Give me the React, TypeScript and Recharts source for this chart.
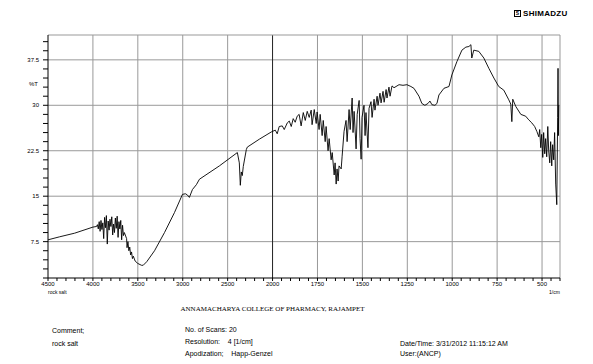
import { LineChart, Line, XAxis, YAxis, ReferenceLine } from 'recharts'

// IR spectrum, rock salt (wavenumber in 1/cm, %T)
const wavenumber = [
  4500, 4370, 4203, 4000, 3960,
  3950, 3940, 3930, 3920, 3910, 3900, 3890, 3880, 3870, 3860, 3850, 3840, 3830, 3820, 3810,
  3800, 3790, 3780, 3770, 3760, 3750, 3740, 3730, 3720, 3710, 3700, 3690, 3680, 3670, 3660, 3650,
  3625, 3620, 3610, 3600, 3590, 3580, 3570, 3560, 3550, 3530, 3500, 3460, 3440, 3400, 3314,
  3203, 3092, 3003, 2970, 2948, 2926, 2892, 2848, 2814, 2592, 2392,
  2370, 2359, 2348, 2337, 2326, 2292, 2281, 2148, 2014,
  1985, 1974, 1963, 1946, 1935, 1918, 1907, 1896, 1885, 1874, 1863, 1852, 1841, 1829, 1818,
  1807, 1796, 1785, 1780, 1768, 1757, 1752, 1741, 1735, 1724, 1718, 1707, 1702, 1691, 1685,
  1674, 1668, 1657, 1652, 1646, 1641, 1635, 1630, 1618, 1613, 1602, 1591, 1585, 1574, 1568,
  1557, 1552, 1546, 1535, 1529, 1518, 1513, 1507, 1502, 1491, 1485, 1480, 1469, 1463, 1452,
  1446, 1435, 1430, 1418, 1413, 1402, 1396, 1385, 1379, 1368, 1363, 1352, 1346, 1335, 1324,
  1296, 1274, 1252, 1230, 1213, 1185, 1169, 1152, 1135, 1124, 1113, 1096, 1085, 1074, 1046,
  1018, 1002, 974, 946, 924, 907, 896, 891, 880, 852, 824, 796, 768, 741, 713,
  685, 674, 668, 663, 646, 618, 591, 574, 557, 541, 529, 518, 513, 507, 502,
  496, 491, 485, 480, 474, 468, 463, 457, 452, 446, 441, 435, 430, 424, 418,
  413, 411, 409, 407,
]
const transmittance = [
  7.8, 8.3, 8.9, 9.9, 10.0,
  10.3, 9.6, 10.8, 9.2, 11.0, 9.5, 10.6, 8.0, 11.5, 9.8, 11.8, 7.1, 10.9, 9.4, 11.2,
  10.0, 11.6, 8.6, 10.4, 9.0, 11.4, 9.7, 11.7, 8.2, 10.8, 9.6, 11.0, 7.8, 10.2, 8.5, 9.0,
  8.0, 6.5, 7.5, 6.0, 6.6, 5.3, 5.8, 4.7, 5.1, 4.3, 3.9, 3.6, 3.6, 4.2, 6.0,
  9.0, 12.3, 15.3, 15.4, 15.2, 14.8, 16.1, 16.9, 17.8, 20.0, 22.2,
  20.5, 16.8, 19.0, 18.4, 19.9, 22.7, 23.1, 24.4, 25.6,
  25.9, 25.3, 26.5, 26.6, 26.0, 27.1, 27.4, 26.5, 27.8, 27.2, 28.2, 28.5, 26.6, 28.8, 27.5,
  29.0, 28.0, 29.2, 26.8, 29.3, 27.0, 28.9, 26.0, 28.5, 25.0, 27.5, 24.0, 26.5, 22.5, 24.5,
  21.0, 22.2, 18.5, 20.5, 17.0, 19.5, 17.5, 20.0, 19.5, 21.5, 25.7, 27.5, 24.0, 29.3, 26.0,
  31.2, 25.5, 29.0, 22.8, 28.5, 30.8, 24.5, 21.1, 28.0, 30.0, 25.0, 28.8, 23.0, 29.5, 30.6,
  28.0, 31.0, 29.2, 31.5, 30.0, 32.0, 30.4, 32.3, 30.5, 32.6, 31.2, 33.0, 31.5, 33.2, 32.9,
  33.4, 33.3, 33.4, 33.1, 32.8, 31.5, 30.3, 30.0, 30.3, 30.7, 30.1, 30.0, 30.3, 31.7, 32.8,
  33.1, 35.0, 37.2, 39.1, 39.6, 39.7, 40.0, 37.8, 39.1, 38.9, 37.8, 36.1, 34.5, 33.1, 32.5,
  30.9, 30.2, 27.3, 31.0, 29.8, 28.5, 28.2, 27.6, 27.1, 26.5, 25.7, 24.8, 26.0, 23.0, 25.2,
  21.4, 25.5, 22.0, 24.5, 21.5, 26.5, 22.5, 20.5, 24.0, 20.0, 23.5, 21.0, 25.5, 17.0, 13.6,
  28.0, 36.1, 25.0, 30.0,
]

const majorWaves = [4500, 4000, 3500, 3000, 2500, 2000, 1750, 1500, 1250, 1000, 750, 500]
const majorT = [7.5, 15, 22.5, 30, 37.5]

// the instrument halves the scale below 2000 1/cm
const waveToX = (w: number) => (w >= 2000 ? (4500 - w) / 500 : 5 + (2000 - w) / 250)
const xToWave = (x: number) => (x <= 5 ? 4500 - x * 500 : 2000 - (x - 5) * 250)

const data = wavenumber.map((w, i) => ({ x: waveToX(w), t: transmittance[i] }))

const minorWaves: number[] = []
for (let w = 4500; w >= 2000; w -= 100) minorWaves.push(w)
for (let w = 1950; w >= 400; w -= 50) minorWaves.push(w)
const xTicks = minorWaves.map(waveToX)
const yTicks: number[] = []
for (let i = 1; i <= 27; i++) yTicks.push(i * 1.5)

const tickFont = { fontSize: 6, fill: '#000', fontFamily: 'Liberation Sans, Arial, sans-serif' }
const sans = 'Liberation Sans, Arial, sans-serif'

const txt = (left: number, top: number, size = 7): React.CSSProperties => ({
  position: 'absolute', left, top, fontSize: size, fontFamily: sans, whiteSpace: 'pre', lineHeight: 1,
})

export default function App() {
  return (
    <div style={{ position: 'absolute', left: 0, top: 0, width: 593, height: 364, background: '#fff' }}>
      <LineChart width={593} height={364} data={data} margin={{ top: 35, right: 33, bottom: 66, left: 8 }}>
        <XAxis
          type="number"
          dataKey="x"
          domain={[0, 11.4]}
          ticks={xTicks}
          interval={0}
          allowDataOverflow
          height={20}
          tickSize={3}
          tickMargin={1}
          stroke="#000"
          tick={tickFont}
          tickFormatter={(v: number) => {
            const w = Math.round(xToWave(v))
            return majorWaves.includes(w) ? String(w) : ''
          }}
        />
        <YAxis
          type="number"
          domain={[1.5, 41.6]}
          ticks={yTicks}
          interval={0}
          allowDataOverflow
          width={40}
          tickSize={5}
          tickMargin={4}
          stroke="#000"
          tick={tickFont}
          tickFormatter={(v: number) => (majorT.some(m => Math.abs(m - v) < 0.01) ? String(v) : '')}
        />
        {majorT.map(v => (
          <ReferenceLine key={'h' + v} y={v} stroke="#999" strokeWidth={1} />
        ))}
        {majorWaves.slice(1).map(w => (
          <ReferenceLine key={'v' + w} x={waveToX(w)} stroke={w === 2000 ? '#222' : '#999'} strokeWidth={1} />
        ))}
        <ReferenceLine y={41.6} stroke="#999" />
        <ReferenceLine x={11.4} stroke="#999" />
        <Line
          type="linear"
          dataKey="t"
          stroke="#000"
          strokeWidth={0.9}
          dot={false}
          isAnimationActive={false}
        />
      </LineChart>

      <div style={{ position: 'absolute', left: 514, top: 9, display: 'flex', alignItems: 'center', gap: 2 }}>
        <div style={{ width: 7, height: 7, border: '1px solid #000', boxSizing: 'border-box', fontSize: 5, lineHeight: '5px', textAlign: 'center', fontFamily: sans, fontWeight: 700 }}>S</div>
        <span style={{ fontSize: 8, fontWeight: 700, fontFamily: sans, letterSpacing: 0.3 }}>SHIMADZU</span>
      </div>

      <div style={txt(29, 81, 6)}>%T</div>
      <div style={txt(48, 290, 5)}>rock salt</div>
      <div style={txt(549, 290, 5)}>1/cm</div>

      <div style={{ position: 'absolute', left: 0, width: 545, top: 305, textAlign: 'center', fontSize: 7, fontFamily: 'Liberation Serif, Times New Roman, serif' }}>
        ANNAMACHARYA COLLEGE OF PHARMACY, RAJAMPET
      </div>

      <div style={txt(52, 327)}>Comment;</div>
      <div style={txt(52, 340)}>rock salt</div>
      <div style={txt(185, 326)}>No. of Scans: 20</div>
      <div style={txt(185, 338)}>{'Resolution:    4 [1/cm]'}</div>
      <div style={txt(185, 350)}>{'Apodization;    Happ-Genzel'}</div>
      <div style={txt(400, 340)}>Date/Time: 3/31/2012 11:15:12 AM</div>
      <div style={txt(400, 350)}>User:(ANCP)</div>
    </div>
  )
}
